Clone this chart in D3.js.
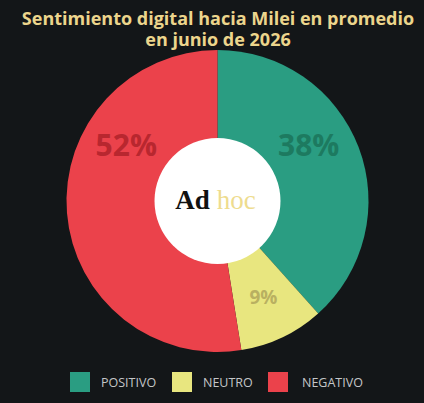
<!DOCTYPE html>
<html>
<head>
<meta charset="utf-8">
<script src="https://cdn.jsdelivr.net/npm/d3@7"></script>
<style>
    html, body {margin: 0; padding: 0; background: #131618;}
    svg {display: block;}
</style>
</head>
<body>
<div class="vis-pie"></div>
<script>
const categories = ['POSITIVO', 'NEUTRO', 'NEGATIVO'];
const values = [38, 9, 52];
const labels = ['38%', '9%', '52%'];
const titleLines = ['Sentimiento digital hacia Milei en promedio', 'en junio de 2026'];

const colors = ['#2a9d82', '#e8e67f', '#eb424b'];
const labelColors = ['#1d7a60', '#b9b061', '#b8272f'];
const labelSizes = [30, 19, 30];
// where each label sits (degrees from top, clockwise); null = slice centre
const labelAngles = [58.5, null, -58.5];

const width = 424;
const height = 403;
const cx = 217.5, cy = 201;
const radius = 151;
const holeRadius = 63;

const svg = d3.select('.vis-pie')
    .append('svg')
    .attr('width', width)
    .attr('height', height);

svg.append('rect')
    .attr('width', width)
    .attr('height', height)
    .attr('fill', '#131618');

// title, one text with a tspan per line
const title = svg.append('text')
    .attr('class', 'title')
    .attr('text-anchor', 'middle')
    .attr('fill', '#ecd58c')
    .style('font-family', 'Open Sans, sans-serif')
    .style('font-weight', 700)
    .style('font-size', '18px');

title.selectAll('tspan')
    .data(titleLines)
    .enter().append('tspan')
    .attr('x', width / 2 + 6)
    .attr('y', (d, i) => 25 + i * 20.5)
    .text(d => d);

const dataset = categories.map((c, i) => ({label: c, count: values[i], text: labels[i]}));

const pie = d3.pie()
    .value(d => d.count)
    .sort(null);

const arc = d3.arc()
    .innerRadius(0)
    .outerRadius(radius);

const labelR = 107;
const labelArc = d3.arc()
    .innerRadius(labelR)
    .outerRadius(labelR);

const g = svg.append('g')
    .attr('transform', 'translate(' + cx + ',' + cy + ')');

const arcs = pie(dataset);

g.selectAll('path')
    .data(arcs)
    .enter()
    .append('path')
    .attr('d', arc)
    .attr('fill', (d, i) => colors[i]);

g.append('circle')
    .attr('r', holeRadius)
    .attr('fill', '#ffffff');

g.selectAll('.pct')
    .data(arcs)
    .enter().append('text')
    .attr('class', 'pct')
    .attr('transform', (d, i) => {
        let p;
        if (labelAngles[i] === null) {
            p = labelArc.centroid(d);
        } else {
            const a = labelAngles[i] * Math.PI / 180;
            p = [labelR * Math.sin(a), -labelR * Math.cos(a)];
        }
        return 'translate(' + p[0] + ',' + p[1] + ')';
    })
    .attr('text-anchor', 'middle')
    .attr('dy', '0.36em')
    .attr('fill', (d, i) => labelColors[i])
    .style('font-family', 'Open Sans, sans-serif')
    .style('font-weight', 700)
    .style('font-size', (d, i) => labelSizes[i] + 'px')
    .text(d => d.data.text);

// logo
const logo = g.append('text')
    .attr('y', 8)
    .attr('x', -2)
    .attr('text-anchor', 'middle')
    .style('font-family', 'Liberation Serif, serif')
    .style('font-size', '27px');
logo.append('tspan').attr('fill', '#111111').style('font-weight', 700).text('Ad');
logo.append('tspan').attr('fill', '#eedc8e').attr('dx', 7).text('hoc');

// legend
const legendX = [70, 172, 268];
const legendG = svg.selectAll('.legend')
    .data(dataset)
    .enter().append('g')
    .attr('class', 'legend')
    .attr('transform', (d, i) => 'translate(' + legendX[i] + ',372)');

legendG.append('rect')
    .attr('width', 20)
    .attr('height', 20)
    .attr('fill', (d, i) => colors[i]);

legendG.append('text')
    .attr('x', (d, i) => i === 2 ? 34 : 31)
    .attr('y', 15)
    .attr('fill', '#c4c6c8')
    .style('font-family', 'Open Sans, sans-serif')
    .style('font-size', '12.5px')
    .text(d => d.label);
</script>
</body>
</html>
